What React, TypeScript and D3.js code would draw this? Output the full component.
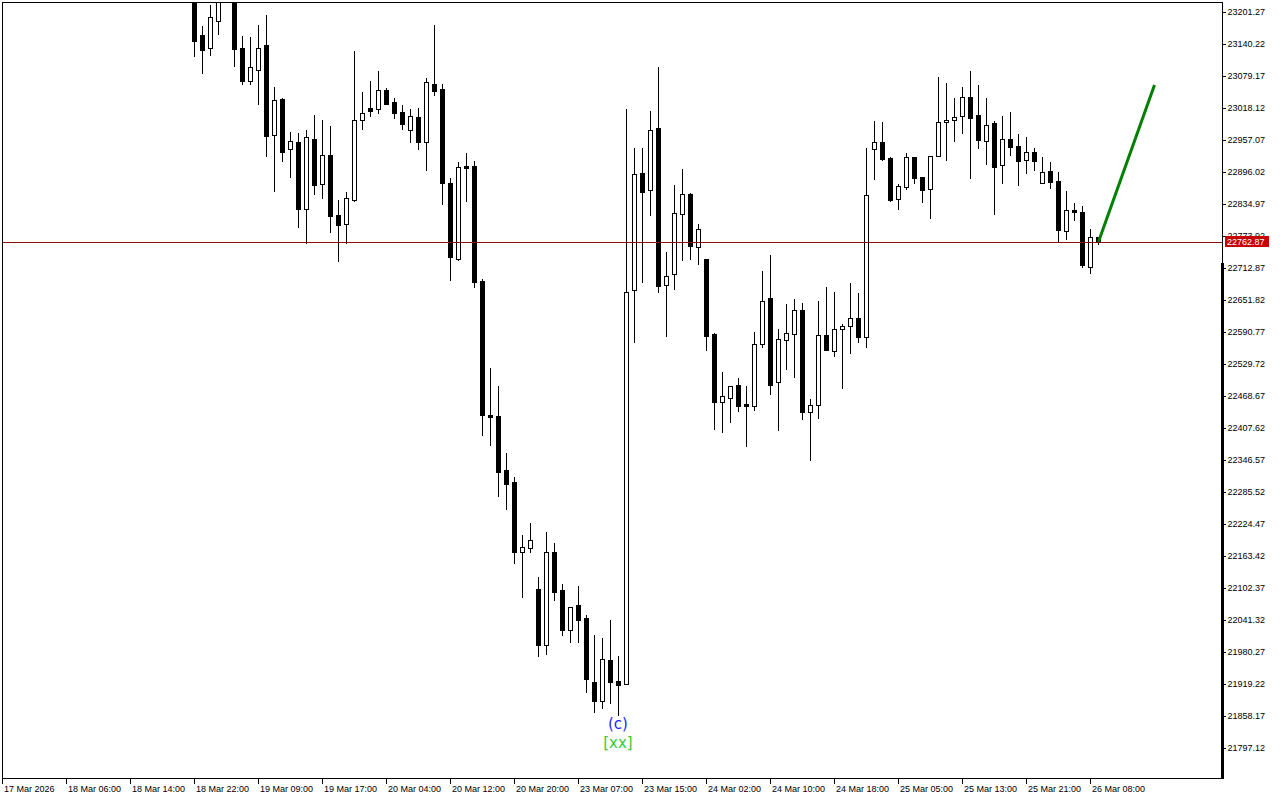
import React from "react";
import * as d3 from "d3";

// Hourly candles (index 0 = 18 Mar 22:00)
const opens = [
  23239.4, 23157.4, 23132.0, 23184.7, 23240.0, 23247.1, 23132.6, 23070.2, 23091.2, 23138.3,
  22967.2, 23035.3, 22940.5, 22953.3, 22826.0, 22959.0, 22872.6, 22928.5, 22814.0, 22796.2,
  22843.2, 22994.7, 23018.1, 23016.8, 23052.5, 23029.6, 23010.5, 22976.7, 23001.0, 22953.8,
  23063.9, 23054.4, 22875.0, 22730.0, 22907.5, 22907.5, 22688.1, 22431.9, 22430.5, 22327.5,
  22304.6, 22171.6, 22178.1, 22100.5, 21994.2, 22170.5, 22098.6, 22022.8, 22069.9, 22045.1,
  21923.0, 21886.8, 21965.0, 21924.4, 21919.8, 22670.3, 22893.5, 22861.1, 22979.4, 22679.9,
  22700.9, 22816.5, 22853.5, 22752.4, 22729.5, 22586.4, 22456.7, 22464.3, 22489.1, 22452.8,
  22450.5, 22567.3, 22655.1, 22494.8, 22574.9, 22586.4, 22632.2, 22438.7, 22452.1, 22584.5,
  22555.1, 22597.1, 22601.6, 22616.9, 22580.7, 22939.3, 22952.7, 22922.2, 22843.9, 22868.0,
  22924.1, 22885.9, 22863.0, 22926.0, 22990.8, 22994.7, 23002.3, 23038.5, 23004.2, 22954.6,
  22988.9, 22908.8, 22958.4, 22945.1, 22918.3, 22933.6, 22874.5, 22897.4, 22878.3, 22782.9,
  22823.0, 22819.1, 22714.2, 22771.4,
];
const highs = [
  23250.9, 23174.6, 23214.6, 23247.1, 23270.0, 23254.7, 23155.5, 23153.6, 23176.5, 23195.5,
  23057.6, 23037.2, 22972.3, 22969.9, 22976.2, 23004.2, 22995.2, 22983.8, 22842.6, 22857.3,
  23126.9, 23048.6, 23069.6, 23088.7, 23056.3, 23037.2, 23023.8, 23016.2, 23018.1, 23075.4,
  23176.5, 23063.9, 22884.6, 22915.1, 22932.3, 22917.0, 22691.9, 22521.5, 22487.2, 22359.9,
  22313.6, 22202.9, 22225.8, 22123.4, 22209.2, 22187.6, 22110.0, 22066.0, 22106.2, 22050.9,
  22012.7, 22007.0, 22041.3, 21972.6, 23015.6, 22941.2, 22941.2, 23011.8, 23095.8, 22742.8,
  22870.6, 22901.2, 22855.4, 22796.2, 22729.5, 22588.3, 22513.9, 22487.7, 22502.4, 22487.2,
  22590.2, 22706.6, 22737.1, 22595.9, 22643.6, 22653.2, 22645.5, 22462.4, 22649.3, 22676.0,
  22666.5, 22605.5, 22683.7, 22664.6, 22941.2, 22993.3, 22991.4, 22924.1, 22872.6, 22931.7,
  22924.1, 22885.9, 22926.0, 23077.3, 23065.2, 23036.6, 23057.6, 23088.7, 23061.4, 23036.6,
  22992.7, 23002.3, 23009.9, 22967.9, 22962.2, 22941.2, 22924.1, 22914.5, 22895.4, 22859.2,
  22836.3, 22830.6, 22786.7, 22771.4,
];
const lows = [
  23117.9, 23085.5, 23119.2, 23159.9, 23228.0, 23098.8, 23064.5, 23064.5, 23026.3, 22927.1,
  22859.8, 22917.6, 22887.0, 22791.7, 22761.1, 22854.6, 22847.0, 22782.1, 22726.8, 22761.5,
  22840.7, 22978.1, 23002.9, 23008.6, 23025.0, 22999.0, 22978.1, 22953.3, 22939.9, 22899.8,
  23042.9, 22835.5, 22690.6, 22728.1, 22840.7, 22677.2, 22394.8, 22375.8, 22278.5, 22253.7,
  22150.6, 22085.8, 22171.6, 21973.2, 21977.0, 22079.5, 22013.3, 21999.9, 21999.9, 21904.5,
  21866.4, 21874.0, 21883.6, 21860.1, 21919.2, 22572.3, 22686.7, 22814.6, 22667.7, 22583.7,
  22673.4, 22728.7, 22730.6, 22721.1, 22557.0, 22406.3, 22400.6, 22419.6, 22439.5, 22373.9,
  22442.5, 22563.1, 22473.1, 22404.4, 22520.8, 22505.5, 22425.4, 22347.1, 22427.3, 22557.0,
  22545.6, 22484.5, 22551.3, 22572.3, 22562.7, 22883.2, 22919.5, 22841.3, 22826.0, 22864.2,
  22875.6, 22839.4, 22808.8, 22926.0, 22919.5, 22955.7, 22971.0, 22885.1, 22942.4, 22911.9,
  22816.5, 22875.6, 22929.0, 22871.8, 22894.7, 22900.4, 22874.5, 22866.1, 22763.8, 22768.8,
  22803.9, 22715.4, 22702.8, 22758.1,
];
const closes = [
  23146.5, 23129.3, 23191.2, 23235.6, 23262.0, 23131.3, 23070.2, 23096.3, 23132.0, 22964.7,
  23033.4, 22934.8, 22955.2, 22825.4, 22962.8, 22871.8, 22928.5, 22812.6, 22795.5, 22845.8,
  22995.2, 23008.0, 23013.0, 23052.5, 23025.8, 23008.6, 22988.2, 23002.9, 22953.8, 23067.7,
  23050.6, 22875.0, 22733.9, 22905.6, 22904.2, 22686.7, 22433.0, 22429.2, 22324.3, 22301.3,
  22171.6, 22180.6, 22193.9, 21994.2, 22170.5, 22095.3, 22022.8, 22065.5, 22041.9, 21929.3,
  21887.4, 21966.9, 21923.6, 21917.9, 22666.5, 22891.6, 22857.3, 22975.6, 22679.1, 22697.0,
  22817.2, 22853.5, 22755.4, 22786.7, 22583.7, 22457.8, 22468.1, 22487.2, 22449.0, 22450.2,
  22567.3, 22649.3, 22490.2, 22576.8, 22588.3, 22632.2, 22438.7, 22452.1, 22584.5, 22557.0,
  22595.9, 22601.6, 22616.9, 22581.8, 22851.6, 22952.7, 22920.8, 22843.2, 22868.7, 22924.1,
  22885.1, 22862.3, 22926.0, 22990.8, 22994.7, 23000.4, 23038.5, 22998.5, 22956.5, 22985.1,
  22906.1, 22958.4, 22944.3, 22917.6, 22933.6, 22917.6, 22895.4, 22877.5, 22785.9, 22823.0,
  22819.1, 22719.2, 22771.4, 22762.87,
];

const currentPrice = 22762.87;

// Wave labels anchored at the low candle (index 53)
const waveLabelIndex = 53;
const waveLabels = ["(c)", "[xx]"];

// Projection line [candle index, price]
const projectionIdx = [113, 120];
const projectionPrice = [22762.87, 23062.0];

const yTicks = [
  23201.27, 23140.22, 23079.17, 23018.12, 22957.07, 22896.02, 22834.97, 22773.92,
  22712.87, 22651.82, 22590.77, 22529.72, 22468.67, 22407.62, 22346.57, 22285.52,
  22224.47, 22163.42, 22102.37, 22041.32, 21980.27, 21919.22, 21858.17, 21797.12,
];

const xTickLabels = [
  "17 Mar 2026", "18 Mar 06:00", "18 Mar 14:00", "18 Mar 22:00", "19 Mar 09:00",
  "19 Mar 17:00", "20 Mar 04:00", "20 Mar 12:00", "20 Mar 20:00", "23 Mar 07:00",
  "23 Mar 15:00", "24 Mar 02:00", "24 Mar 10:00", "24 Mar 18:00", "25 Mar 05:00",
  "25 Mar 13:00", "25 Mar 21:00", "26 Mar 08:00",
];
const firstTickIndex = -24;
const tickStep = 8;

const W = 1280;
const H = 800;
const left = 2;
const top = 2;
const right = 1222;
const bottom = 778;
const FONT = "'Liberation Sans', Arial, sans-serif";

export default function App() {
  const x = d3.scaleLinear().domain([0, 112]).range([194.5, 1090.5]);
  const y = d3.scaleLinear().domain([23201.27, 21797.12]).range([12, 748]);
  const r = (v: number) => Math.round(v);

  const candles = opens.map((o, i) => {
    const c = closes[i];
    const h = highs[i];
    const l = lows[i];
    const cx = x(i);
    const bull = c > o;
    const yt = r(y(Math.max(o, c)));
    const yb = r(y(Math.min(o, c)));
    const wick = (
      <line key={"w" + i} x1={cx} x2={cx} y1={r(y(h))} y2={r(y(l)) + 1} stroke="#000" strokeWidth={1} />
    );
    let body;
    if (bull) {
      body = (
        <rect key={"b" + i} x={cx - 2} y={yt + 0.5} width={4} height={Math.max(1, yb - yt)}
          fill="#fff" stroke="#000" strokeWidth={1} />
      );
    } else {
      body = (
        <rect key={"b" + i} x={cx - 2.5} y={yt} width={5} height={Math.max(1, yb - yt + 1)} fill="#000" />
      );
    }
    return <g key={i}>{wick}{body}</g>;
  });

  const proj = d3.line<number>()
    .x((d, i) => x(projectionIdx[i]))
    .y((d) => y(d))(projectionPrice) as string;

  const priceY = r(y(currentPrice)) + 0.5;
  const lowY = y(lows[waveLabelIndex]);

  return (
    <div style={{ position: "absolute", left: 0, top: 0, width: W, height: H, background: "#fff" }}>
      <svg width={W} height={H} style={{ display: "block" }}>
        <defs>
          <clipPath id="plot">
            <rect x={left + 1} y={top + 1} width={right - left - 1} height={bottom - top - 1} />
          </clipPath>
        </defs>
        <rect x={0} y={0} width={W} height={H} fill="#fff" />
        <g clipPath="url(#plot)">
          {candles}
          <line x1={left} x2={right} y1={priceY} y2={priceY} stroke="#8a1010" strokeWidth={1} />
          <path d={proj} fill="none" stroke="#008000" strokeWidth={3} />
          {waveLabels.map((t, i) => (
            <text key={t} x={x(waveLabelIndex) - 0.5} y={lowY + 14 + i * 19.5} textAnchor="middle"
              fontFamily="'DejaVu Sans', sans-serif" fontSize={15}
              fill={i === 0 ? "#1e1eff" : "#32cd32"}>{t}</text>
          ))}
        </g>
        {/* frame */}
        <rect x={left + 0.5} y={top + 0.5} width={right - left} height={bottom - top} fill="none" stroke="#000" strokeWidth={1} />
        <rect x={right - 1} y={263} width={3} height={bottom - 263 + 1} fill="#000" />
        {/* y axis */}
        {yTicks.map((v) => (
          <g key={v}>
            <line x1={right} x2={right + 4} y1={r(y(v)) + 0.5} y2={r(y(v)) + 0.5} stroke="#000" />
            <text x={right + 5.5} y={y(v)} dy="0.35em" fontFamily={FONT} fontSize={9} fill="#000">
              {v.toFixed(2)}
            </text>
          </g>
        ))}
        <rect x={1225} y={236} width={44} height={11} fill="#c80000" />
        <text x={1227} y={y(currentPrice)} dy="0.35em" fontFamily={FONT} fontSize={9} fill="#fff">
          {currentPrice.toFixed(2)}
        </text>
        {/* x axis */}
        {xTickLabels.map((t, i) => {
          const xi = r(x(firstTickIndex + i * tickStep) - 0.5) + 0.5;
          return (
            <g key={t}>
              <line x1={xi} x2={xi} y1={bottom} y2={bottom + 6} stroke="#000" />
              <text x={xi + 1.5} y={792} fontFamily={FONT} fontSize={9} fill="#000">{t}</text>
            </g>
          );
        })}
      </svg>
    </div>
  );
}
